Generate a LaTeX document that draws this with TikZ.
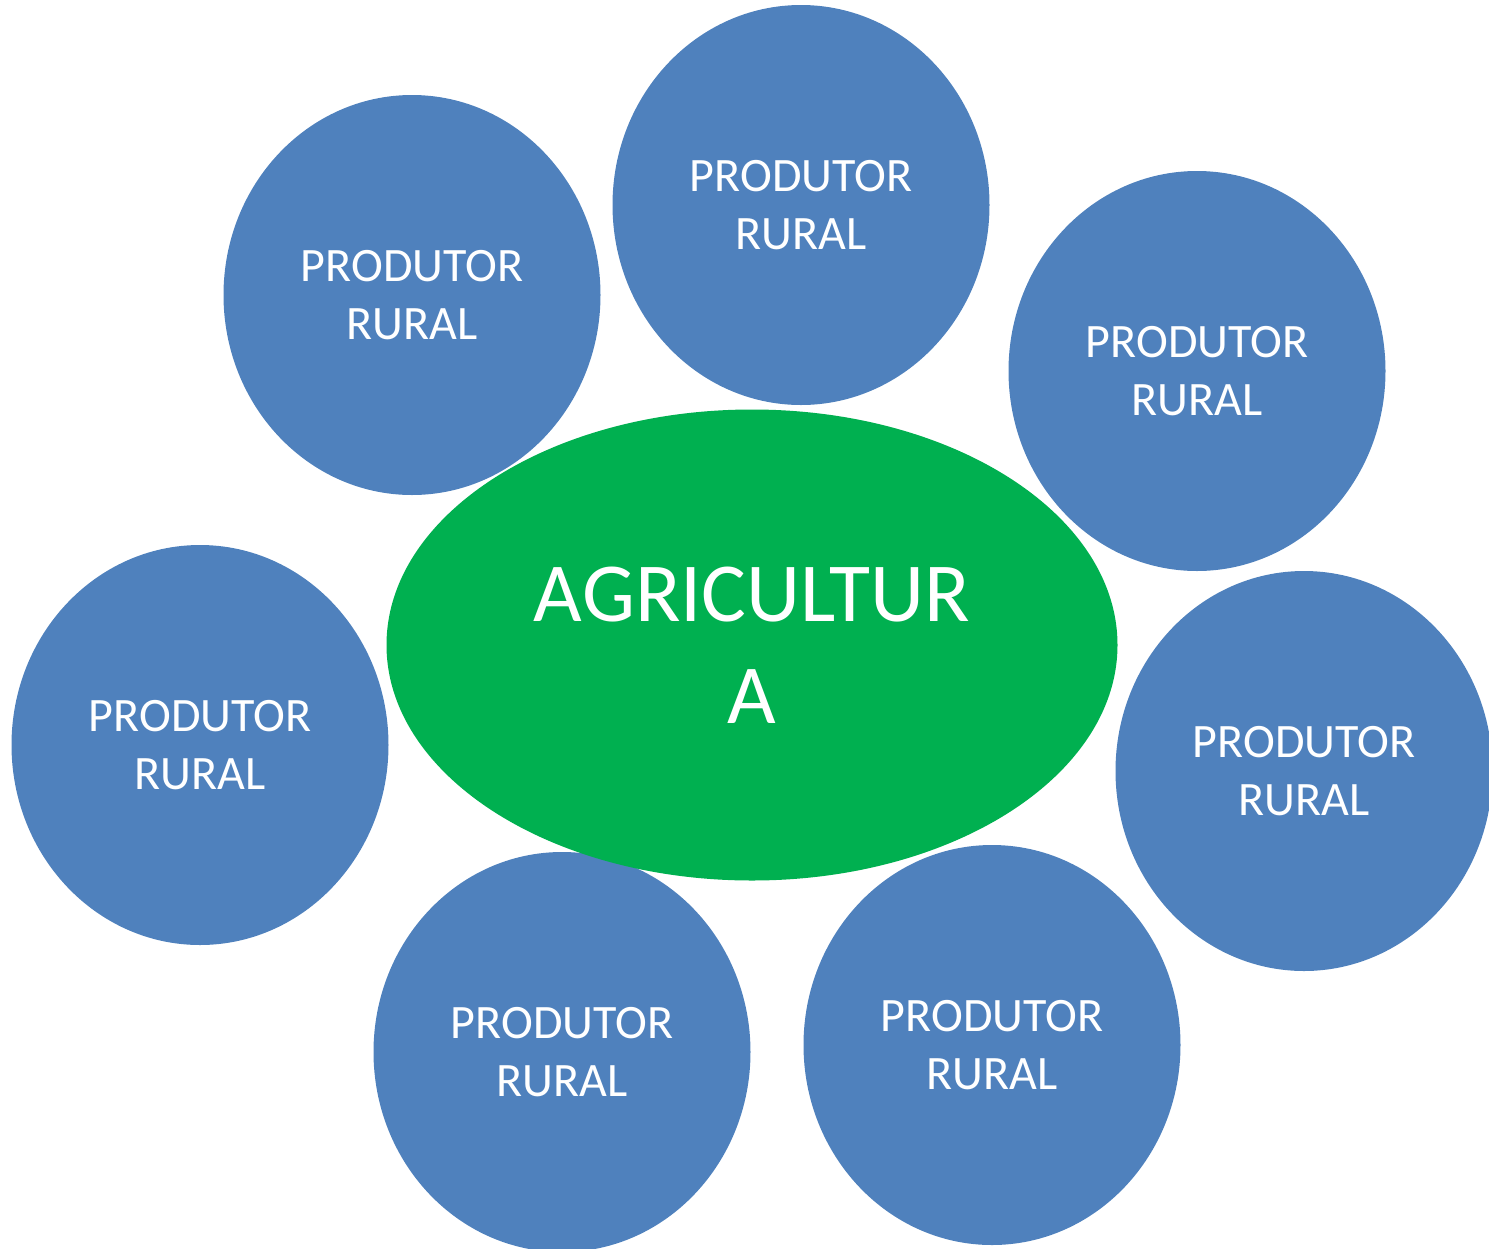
\documentclass[tikz,border=0pt]{standalone}
\usepackage{fontspec}
\setmainfont{Carlito}
\usetikzlibrary{shapes.geometric}
\definecolor{azul}{HTML}{4F81BD}
\definecolor{verde}{HTML}{00B050}
\tikzset{
  produtor/.style={ellipse, fill=azul, inner sep=0pt, minimum width=377pt, minimum height=400pt,
    text=white, align=center, font=\fontsize{48}{58}\selectfont},
  agricultura/.style={ellipse, fill=verde, inner sep=0pt, minimum width=731pt, minimum height=471pt,
    text=white, align=center, font=\fontsize{84}{102}\selectfont}
}
\begin{document}
\begin{tikzpicture}[x=1pt,y=-1pt]
    \useasboundingbox (0,0) rectangle (1489,1248);
          \node[produtor] (p1) at (412,295) {PRODUTOR\\RURAL};
          \node[produtor] (p2) at (801,205) {PRODUTOR\\RURAL};
          \node[produtor] (p3) at (1197,371) {PRODUTOR\\RURAL};
          \node[produtor] (p4) at (1304,771) {PRODUTOR\\RURAL};
          \node[produtor] (p5) at (992,1045) {PRODUTOR\\RURAL};
          \node[produtor] (p6) at (562,1052) {PRODUTOR\\RURAL};
          \node[produtor] (p7) at (200,745) {PRODUTOR\\RURAL};
          \node[agricultura] (agr) at (752,645) {AGRICULTUR\\A};
    \end{tikzpicture}
\end{document}
